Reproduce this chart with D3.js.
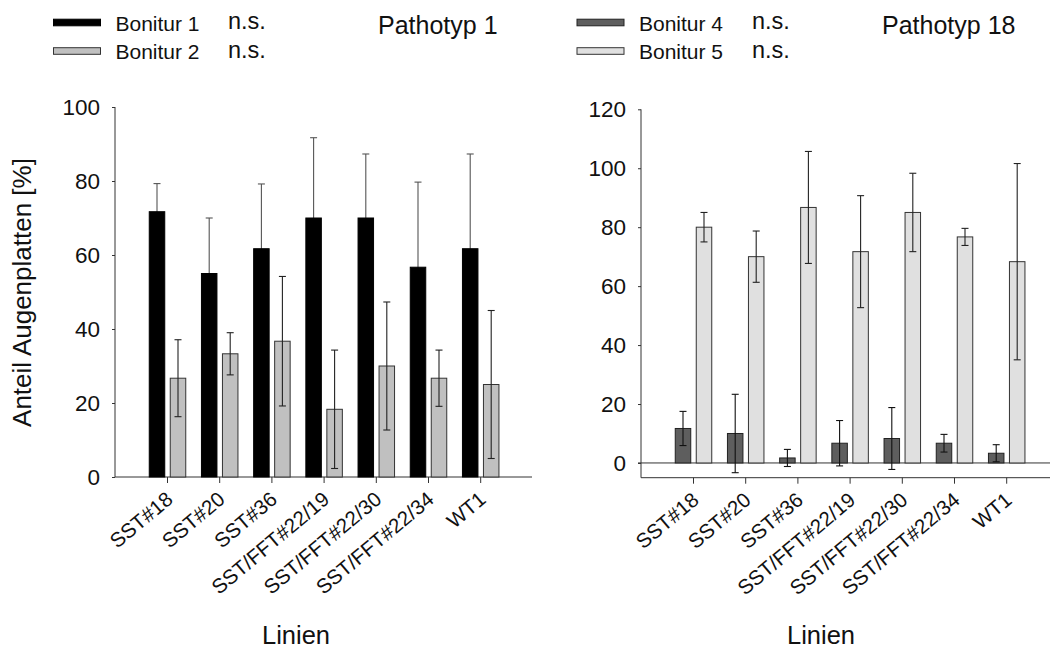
<!DOCTYPE html>
<html>
<head>
<meta charset="utf-8">
<script src="https://cdn.jsdelivr.net/npm/d3@7"></script>
<style>
  html, body { margin: 0; padding: 0; background: #fff; }
  svg { display: block; font-family: "Liberation Sans", Arial, sans-serif; }
</style>
</head>
<body>
<svg id="chart" width="1050" height="650"></svg>
<script>
// ---------- data ----------
const categories = ["SST#18", "SST#20", "SST#36", "SST/FFT#22/19", "SST/FFT#22/30", "SST/FFT#22/34", "WT1"];

const bonitur1    = [71.7, 55.0, 61.7, 70.0, 70.0, 56.7, 61.7];
const bonitur1Err = [7.6, 15.0, 17.5, 21.7, 17.3, 23.0, 25.6];
const bonitur2    = [26.7, 33.3, 36.7, 18.3, 30.0, 26.7, 25.0];
const bonitur2Err = [10.4, 5.7, 17.5, 16.0, 17.3, 7.6, 20.0];

const bonitur4    = [11.7, 10.0, 1.7, 6.7, 8.3, 6.7, 3.3];
const bonitur4Err = [5.8, 13.3, 2.9, 7.7, 10.5, 3.0, 2.9];
const bonitur5    = [80.0, 70.0, 86.7, 71.7, 85.0, 76.7, 68.3];
const bonitur5Err = [5.0, 8.7, 19.0, 19.0, 13.3, 2.9, 33.3];

const leftTicks  = [0, 20, 40, 60, 80, 100];
const rightTicks = [0, 20, 40, 60, 80, 100, 120];

const leftLegend  = ["Bonitur 1", "Bonitur 2"];
const rightLegend = ["Bonitur 4", "Bonitur 5"];
const sigLabels   = ["n.s.", "n.s."];
const titles      = ["Pathotyp 1", "Pathotyp 18"];
const xTitle      = "Linien";
const yTitle      = "Anteil Augenplatten [%]";

// ---------- drawing ----------
const svg = d3.select("#chart");
const step = 52.2;
const barW = 15.5;
const barOff = 10.5;
const capW = 7;
const textCol = "#111";

function panel(cfg) {
  const g = svg.append("g");
  const x = d3.scaleBand()
    .domain(categories)
    .range([cfg.firstCenter - step / 2, cfg.firstCenter - step / 2 + step * categories.length])
    .padding(0);
  const y = d3.scaleLinear().domain(cfg.yDomain).range([cfg.yBottom, cfg.yTop]);
  const cx = c => x(c) + x.bandwidth() / 2;

  // y axis
  const yAx = g.append("g")
    .attr("transform", `translate(${cfg.axisX},0)`)
    .call(d3.axisLeft(y).tickValues(cfg.ticks).tickSize(3).tickPadding(12).tickFormat(d3.format("d")));
  yAx.select(".domain").attr("stroke", "#333").attr("d", `M0,${cfg.yTop}V${cfg.yBottom}`);
  yAx.selectAll(".tick line").attr("stroke", "#333");
  yAx.selectAll(".tick text").attr("font-size", 22.5).attr("fill", textCol)
     .attr("font-family", "'Liberation Sans', Arial, sans-serif");

  // zero line (right chart)
  if (cfg.zeroLine) {
    g.append("line").attr("x1", cfg.axisX - 3).attr("x2", cfg.axisEnd)
      .attr("y1", y(0)).attr("y2", y(0)).attr("stroke", "#333").attr("stroke-width", 1);
  }

  // x axis
  const xAx = g.append("g")
    .attr("transform", `translate(0,${cfg.yBottom})`)
    .call(d3.axisBottom(x).tickSize(6).tickSizeOuter(0));
  xAx.select(".domain").remove();
  xAx.selectAll(".tick line").attr("stroke", "#333");
  xAx.selectAll(".tick text")
    .attr("font-size", 20.5).attr("fill", textCol)
    .attr("font-family", "'Liberation Sans', Arial, sans-serif")
    .attr("text-anchor", "end")
    .attr("dy", "0.35em")
    .attr("y", 0)
    .attr("transform", "translate(2,19) rotate(-40)");
  g.append("line").attr("x1", cfg.axisX).attr("x2", cfg.axisEnd)
    .attr("y1", cfg.yBottom).attr("y2", cfg.yBottom).attr("stroke", "#333").attr("stroke-width", 1);

  // series
  cfg.series.forEach((s, si) => {
    const off = si === 0 ? -barOff : barOff;
    const data = categories.map((c, i) => ({ c, v: s.values[i], e: s.err[i] }));
    const drawErr = () => {
      const eg = g.append("g").attr("stroke", s.errColor).attr("stroke-width", 1.1).attr("fill", "none");
      data.forEach(d => {
        const xc = cx(d.c) + off;
        eg.append("line").attr("x1", xc).attr("x2", xc).attr("y1", y(d.v + d.e)).attr("y2", y(d.v - d.e));
        eg.append("line").attr("x1", xc - capW / 2).attr("x2", xc + capW / 2).attr("y1", y(d.v + d.e)).attr("y2", y(d.v + d.e));
        eg.append("line").attr("x1", xc - capW / 2).attr("x2", xc + capW / 2).attr("y1", y(d.v - d.e)).attr("y2", y(d.v - d.e));
      });
    };
    if (s.errBehind) drawErr();
    g.append("g").selectAll("rect").data(data).join("rect")
      .attr("x", d => cx(d.c) + off - barW / 2)
      .attr("width", barW)
      .attr("y", d => y(d.v))
      .attr("height", d => y(0) - y(d.v))
      .attr("fill", s.fill)
      .attr("stroke", s.stroke)
      .attr("stroke-width", 1);
    if (!s.errBehind) drawErr();
  });

  // legend
  cfg.legend.forEach((lab, i) => {
    const yy = 22.5 + i * 28.5;
    g.append("rect").attr("x", cfg.legX).attr("y", yy - 3.3).attr("width", 47).attr("height", 6.6)
      .attr("fill", cfg.series[i].fill).attr("stroke", cfg.series[i].stroke).attr("stroke-width", 1);
    g.append("text").attr("x", cfg.legX + 62).attr("y", yy + 8).attr("font-size", 21).attr("fill", textCol).text(lab);
    g.append("text").attr("x", cfg.nsX).attr("y", yy + 6.5).attr("font-size", 23.5).attr("fill", textCol).text(sigLabels[i]);
  });
  g.append("text").attr("x", cfg.titleX).attr("y", 34).attr("font-size", 25).attr("fill", textCol).text(cfg.title);

  // x title
  g.append("text").attr("x", cfg.xTitleX).attr("y", 643.5).attr("text-anchor", "middle")
    .attr("font-size", 25.5).attr("fill", textCol).text(xTitle);
}

panel({
  firstCenter: 167.5, axisX: 115, axisEnd: 532, yTop: 107, yBottom: 477, yDomain: [0, 100], ticks: leftTicks,
  zeroLine: false,
  series: [
    { values: bonitur1, err: bonitur1Err, fill: "#000", stroke: "#000", errColor: "#555", errBehind: true },
    { values: bonitur2, err: bonitur2Err, fill: "#c0c0c0", stroke: "#333", errColor: "#222", errBehind: false }
  ],
  legend: leftLegend, legX: 53.5, nsX: 228, title: titles[0], titleX: 378, xTitleX: 296
});

panel({
  firstCenter: 693.5, axisX: 641, axisEnd: 1050, yTop: 109.3, yBottom: 477.7, yDomain: [-5, 120], ticks: rightTicks,
  zeroLine: true,
  series: [
    { values: bonitur4, err: bonitur4Err, fill: "#5e5e5e", stroke: "#222", errColor: "#111", errBehind: false },
    { values: bonitur5, err: bonitur5Err, fill: "#e0e0e0", stroke: "#333", errColor: "#222", errBehind: false }
  ],
  legend: rightLegend, legX: 577, nsX: 752, title: titles[1], titleX: 882, xTitleX: 821
});

// y title (left chart only)
svg.append("text")
  .attr("transform", "translate(31,292.5) rotate(-90)")
  .attr("text-anchor", "middle")
  .attr("font-size", 26)
  .attr("fill", textCol)
  .text(yTitle);
</script>
</body>
</html>
